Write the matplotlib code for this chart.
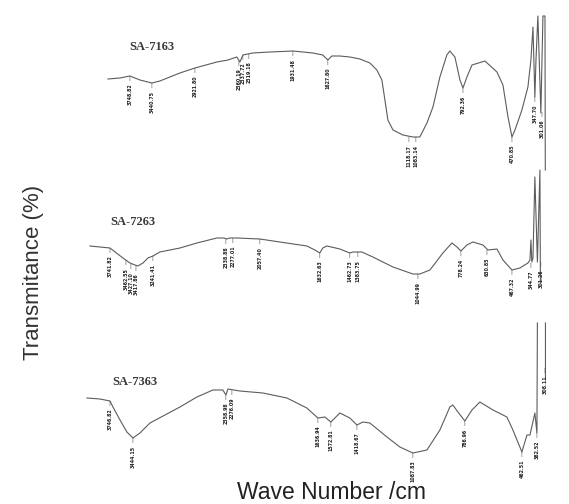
import numpy as np
import matplotlib
matplotlib.use("Agg")
import matplotlib.pyplot as plt

# ---------------- data (wavenumber cm-1, transmittance arbitrary units) ----------------
wn_7163 = [3988, 3840, 3718, 3595, 3448, 3350, 3104, 2920, 2650, 2515, 2405, 2368, 2331, 2209,
           2000, 1854, 1728, 1665, 1633, 1608, 1557, 1494, 1430, 1367, 1323, 1291, 1272, 1253,
           1221, 1158, 1095, 1051, 1006, 968, 924, 880, 861, 829, 797, 778, 753, 721, 639, 563,
           525, 493, 468, 449, 405, 367, 348, 335, 323, 316, 304, 285, 272, 259, 257]
t_7163 = [425, 426, 428, 424, 421, 423, 431, 436, 442, 444, 447, 442, 449, 451,
          452, 453, 451, 449, 444, 448, 448, 447, 445, 441, 434, 424, 404, 384,
          374, 369, 367, 367, 381, 397, 427, 449, 453, 447, 424, 416, 427, 439, 443, 432,
          419, 387, 367, 374, 394, 417, 444, 477, 407, 444, 488, 391, 488, 488, 334]

wn_7263 = [4209, 3963, 3804, 3718, 3656, 3620, 3558, 3497, 3436, 3350, 3104, 2896, 2650, 2564,
           2528, 2491, 2405, 2123, 1937, 1766, 1715, 1684, 1665, 1639, 1557, 1494, 1475, 1418,
           1348, 1221, 1095, 1051, 987, 905, 848, 816, 791, 753, 715, 652, 620, 563, 525, 468,
           418, 367, 354, 348, 342, 335, 323, 307, 291, 288]
t_7263 = [258, 256, 246, 241, 239, 238, 241, 246, 248, 252, 256, 261, 266, 266,
          265, 266, 266, 265, 262, 258, 254, 251, 256, 258, 255, 251, 252, 252,
          247, 237, 230, 230, 234, 251, 261, 257, 253, 259, 262, 259, 254, 255, 244, 234,
          236, 241, 244, 264, 242, 246, 327, 242, 334, 221]

wn_7363 = [4245, 4086, 3963, 3926, 3840, 3755, 3681, 3595, 3472, 3104, 2896, 2699, 2577, 2540,
           2515, 2368, 2086, 1892, 1766, 1696, 1652, 1614, 1557, 1494, 1449, 1411, 1367, 1259,
           1177, 1095, 1006, 924, 861, 842, 810, 766, 721, 671, 588, 500, 462, 405, 373, 354,
           323, 310, 307, np.nan, 256, 256]
t_7363 = [106, 105, 103, 97, 84, 72, 66, 71, 81, 97, 107, 114, 114, 109,
          115, 113, 111, 106, 96, 86, 87, 82, 91, 86, 79, 82, 81, 67,
          57, 51, 54, 74, 97, 99, 92, 83, 94, 102, 94, 87, 74, 52, 69, 69,
          91, 71, 181, np.nan, 181, 124]

# peak labels: position (wavenumber), transmittance at the peak, text
pk_wn_7163 = [3718, 3448, 2920, 2380, 2331, 2258, 1854, 1633, 1120, 1076, 778, 468, 323, 278]
pk_t_7163 = [428, 421, 436, 443, 449, 450, 453, 444, 367, 367, 416, 367, 407, 392]
pk_txt_7163 = ["3748.82", "3440.75", "2921.80", "2360.19", "2337.72", "2319.18", "1931.48",
               "1627.80", "1118.17", "1083.14", "792.36", "470.85", "347.70", "301.06"]

pk_wn_7263 = [3963, 3767, 3706, 3644, 3436, 2540, 2454, 2123, 1684, 1494, 1443, 1063, 791,
              626, 468, 348, 285]
pk_t_7263 = [256, 244, 240, 238, 248, 265, 266, 265, 251, 251, 252, 230, 253, 254, 234, 241, 242]
pk_txt_7263 = ["3741.82", "3462.55", "3427.10", "3417.86", "3241.41", "2338.88", "2277.01",
               "2057.40", "1632.63", "1462.73", "1383.75", "1044.99", "778.24", "630.85",
               "467.32", "344.77", "301.26"]

pk_wn_7363 = [3963, 3681, 2540, 2466, 1696, 1614, 1449, 1095, 766, 405, 310, 259]
pk_t_7363 = [103, 66, 109, 114, 86, 82, 79, 51, 83, 52, 71, 136]
pk_txt_7363 = ["3746.82", "3444.15", "2358.98", "2276.09", "1636.94", "1572.81", "1418.67",
               "1087.83", "786.96", "462.51", "382.52", "308.11"]

samples = ["SA-7163", "SA-7263", "SA-7363"]

# ---------------- figure ----------------
SCALE = 1.94  # region below 2000 cm-1 is expanded


def fwd(w):
    w = np.asarray(w, dtype=float)
    return np.where(w >= 2000, w, 2000 - SCALE * (2000 - w))


def inv(u):
    u = np.asarray(u, dtype=float)
    return np.where(u >= 2000, u, 2000 - (2000 - u) / SCALE)


fig = plt.figure(figsize=(5.69, 5.04), dpi=100)
ax = fig.add_axes([0, 0, 1, 1])
ax.set_xscale("function", functions=(fwd, inv))
ax.set_xlim(5313, 107)
ax.set_ylim(0, 504)
ax.axis("off")

line_col = "#5c5c5c"
curves = [(wn_7163, t_7163), (wn_7263, t_7263), (wn_7363, t_7363)]
peaks = [(pk_wn_7163, pk_t_7163, pk_txt_7163),
         (pk_wn_7263, pk_t_7263, pk_txt_7263),
         (pk_wn_7363, pk_t_7363, pk_txt_7363)]

for (wn, t) in curves:
    ax.plot(wn, t, color=line_col, lw=0.8, solid_joinstyle="round")

for (pw, pt, ptxt) in peaks:
    for w, t, s in zip(pw, pt, ptxt):
        ax.annotate(s, xy=(w, t), xytext=(0, -5.5), textcoords="offset points",
                    rotation=90, ha="center", va="top", fontsize=3.4, color="#222222",
                    fontweight="bold",
                    arrowprops=dict(arrowstyle="-", lw=0.4, color="#555555",
                                    shrinkA=0, shrinkB=0))

title_pos = [(0.267, 0.907), (0.234, 0.560), (0.237, 0.242)]
for name, (x, y) in zip(samples, title_pos):
    ax.text(x, y, name, transform=ax.transAxes, ha="center", va="center",
            fontsize=9, fontweight="bold", family=["Liberation Serif", "DejaVu Serif"],
            color="#3a3a3a")

fig.text(0.058, 0.46, "Transmitance (%)", rotation=90, ha="center", va="center",
         fontsize=16, family=["Liberation Sans", "DejaVu Sans"], color="#333333")
fig.text(0.583, 0.022, "Wave Number /cm", ha="center", va="center",
         fontsize=16.5, family=["Liberation Sans", "DejaVu Sans"], color="#222222")

fig.savefig("out.png", dpi=100, facecolor="white")
